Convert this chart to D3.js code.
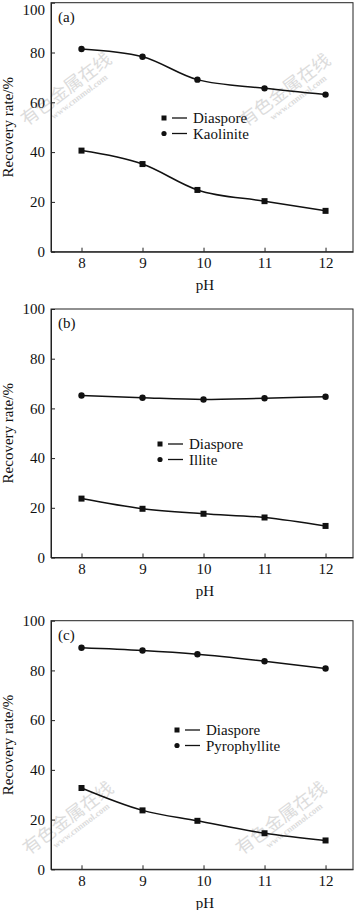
<!DOCTYPE html>
<html>
<head>
<meta charset="utf-8">
<script src="https://cdn.jsdelivr.net/npm/d3@7"></script>
<style>
  body { margin: 0; background: #fff; }
  svg text { font-family: "Liberation Serif", "Times New Roman", Times, serif; }
  svg text.cjk { font-family: "Noto Sans CJK SC", sans-serif; }
</style>
</head>
<body>
<div id="chart"></div>
<script>
// pH values and recovery rates (%)
const phA = [8, 9, 9.9, 11, 12];
const diasporeA = [40.6, 35.2, 24.8, 20.3, 16.4];
const kaoliniteA = [81.4, 78.3, 69.1, 65.6, 63.1];

const phB = [8, 9, 10, 11, 12];
const diasporeB = [23.7, 19.6, 17.6, 16.1, 12.7];
const illiteB = [65.2, 64.3, 63.6, 64.1, 64.7];

const phC = [8, 9, 9.9, 11, 12];
const diasporeC = [32.7, 23.7, 19.5, 14.5, 11.6];
const pyrophylliteC = [89.1, 88.0, 86.5, 83.7, 80.8];

const xTicks = [8, 9, 10, 11, 12];
const yTicks = [0, 20, 40, 60, 80, 100];

const width = 354, height = 910;
const left = 51, right = 353;

const svg = d3.select("#chart").append("svg")
    .attr("width", width)
    .attr("height", height);

const panels = [
    { tag: "(a)", top: 2.7, bottom: 251.7, ph: phA, diaspore: diasporeA, other: kaoliniteA, otherName: "Kaolinite", legendX: 164, legendY: 118 },
    { tag: "(b)", top: 309, bottom: 557.5, ph: phB, diaspore: diasporeB, other: illiteB, otherName: "Illite", legendX: 160, legendY: 444 },
    { tag: "(c)", top: 620.7, bottom: 869.3, ph: phC, diaspore: diasporeC, other: pyrophylliteC, otherName: "Pyrophyllite", legendX: 177, legendY: 730 }
];

// watermark spots (behind the plot)
const marks = [[66, 89], [285, 90], [68, 818], [281, 818]];
marks.forEach(([mx, my]) => {
    const w = svg.append("g")
        .attr("transform", `translate(${mx},${my}) rotate(-37)`)
        .attr("fill", "#dcdcdc")
        .attr("text-anchor", "middle");
    w.append("text")
        .attr("class", "cjk")
        .attr("font-size", 18)
        .attr("dy", "0.35em")
        .text("有色金属在线");
    w.append("text")
        .attr("x", 6).attr("y", 17)
        .attr("font-size", 9)
        .attr("font-weight", "bold")
        .text("www.cnnmol.com");
});

const x = d3.scaleLinear().domain([7.5, 12.45]).range([left, right]);

panels.forEach((p, pi) => {
    const y = d3.scaleLinear().domain([0, 100]).range([p.bottom, p.top]);
    const g = svg.append("g");

    // frame
    g.append("rect")
        .attr("x", left).attr("y", p.top)
        .attr("width", right - left).attr("height", p.bottom - p.top)
        .attr("fill", "none").attr("stroke", "#222").attr("stroke-width", 1);

    const xAxis = g.append("g")
        .attr("transform", `translate(0,${p.bottom})`)
        .call(d3.axisBottom(x).tickValues(xTicks).tickFormat(d3.format("d"))
            .tickSizeInner(-4).tickSizeOuter(0).tickPadding(6));
    const yAxis = g.append("g")
        .attr("transform", `translate(${left},0)`)
        .call(d3.axisLeft(y).tickValues(yTicks).tickFormat(d3.format("d"))
            .tickSizeInner(-4).tickSizeOuter(0).tickPadding(6));

    [xAxis, yAxis].forEach(a => {
        a.attr("font-family", null);
        a.select(".domain").attr("stroke", "#222");
        a.selectAll(".tick line").attr("stroke", "#222");
        a.selectAll(".tick text")
            .attr("font-size", 15)
            .attr("fill", "#111");
    });
    // top label of panel (a) sits against the picture edge
    if (pi === 0) {
        yAxis.selectAll(".tick text").filter(d => d === 100).attr("y", 6.5);
    }

    // axis titles
    g.append("text")
        .attr("x", 205).attr("y", p.bottom + 38.5)
        .attr("text-anchor", "middle")
        .attr("font-size", 15).attr("fill", "#111")
        .text("pH");
    g.append("text")
        .attr("transform", `translate(13,${(p.top + p.bottom) / 2}) rotate(-90)`)
        .attr("text-anchor", "middle")
        .attr("font-size", 15).attr("fill", "#111")
        .text("Recovery rate/%");

    g.append("text")
        .attr("x", 58).attr("y", p.top + 19)
        .attr("font-size", 15).attr("fill", "#111")
        .text(p.tag);

    const line = d3.line()
        .x((d, i) => x(p.ph[i]))
        .y(d => y(d))
        .curve(d3.curveMonotoneX);

    [p.diaspore, p.other].forEach(vals => {
        g.append("path")
            .attr("d", line(vals))
            .attr("fill", "none")
            .attr("stroke", "#111")
            .attr("stroke-width", 1.5);
    });

    g.selectAll(".sq").data(p.diaspore).enter().append("rect")
        .attr("x", (d, i) => x(p.ph[i]) - 3)
        .attr("y", d => y(d) - 3)
        .attr("width", 6).attr("height", 6)
        .attr("fill", "#111");

    g.selectAll(".dot").data(p.other).enter().append("circle")
        .attr("cx", (d, i) => x(p.ph[i]))
        .attr("cy", d => y(d))
        .attr("r", 3.2)
        .attr("fill", "#111");

    // legend
    const lg = g.append("g").attr("transform", `translate(${p.legendX},${p.legendY})`);
    [["Diaspore", "square"], [p.otherName, "circle"]].forEach(([name, shape], i) => {
        const row = lg.append("g").attr("transform", `translate(0,${i * 15.5})`);
        if (shape === "square") {
            row.append("rect").attr("x", -2.5).attr("y", -2.5).attr("width", 5).attr("height", 5).attr("fill", "#111");
        } else {
            row.append("circle").attr("r", 2.6).attr("fill", "#111");
        }
        row.append("line")
            .attr("x1", 8).attr("x2", 23)
            .attr("stroke", "#111").attr("stroke-width", 1.3);
        row.append("text")
            .attr("x", 29).attr("dy", "0.35em")
            .attr("font-size", 15).attr("fill", "#111")
            .text(name);
    });
});
</script>
</body>
</html>
